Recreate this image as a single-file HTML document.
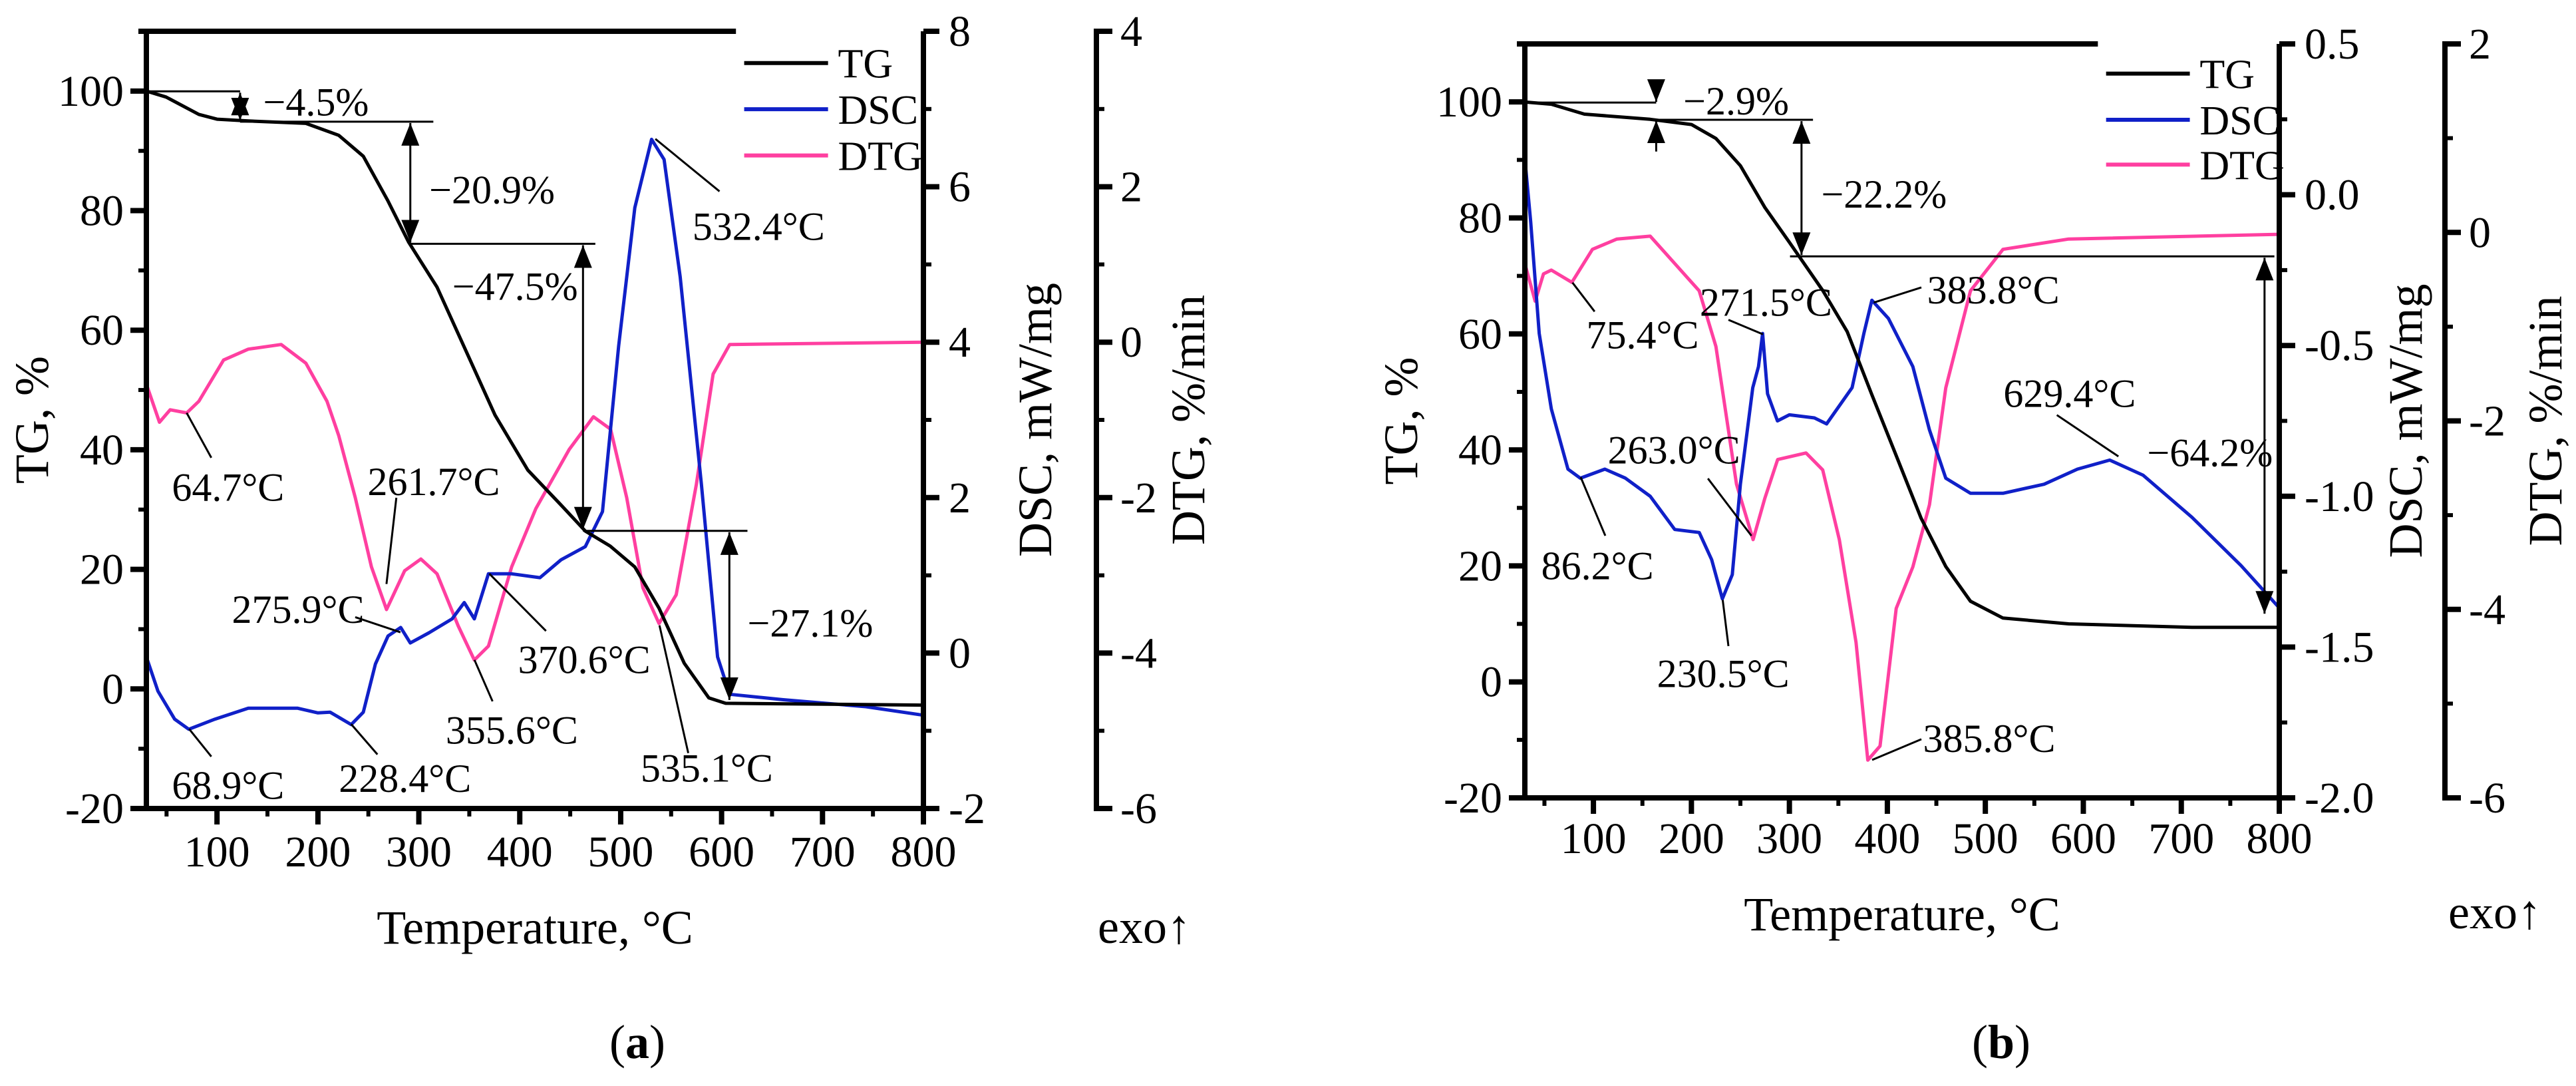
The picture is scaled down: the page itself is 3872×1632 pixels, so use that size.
<!DOCTYPE html>
<html><head><meta charset="utf-8"><style>
html,body{margin:0;padding:0;background:#fff;}
svg,svg text{font-family:"Liberation Serif","Times New Roman",serif;}
</style></head><body>
<svg id="fig" width="3872" height="1627" viewBox="0 0 3872 1627" xmlns="http://www.w3.org/2000/svg" font-family="Liberation Serif, serif">
<defs>
<marker id="ahb" viewBox="0 0 10 10" refX="10" refY="5" markerWidth="34" markerHeight="30" orient="auto-start-reverse" markerUnits="userSpaceOnUse" preserveAspectRatio="none"><path d="M0,0.5 L10,5 L0,9.5 z" fill="#000"/></marker>
</defs>
</svg>
<script>
// ---------- Panel (a) data ----------
const aTgT=[30,49.5,82,100,131,188,220.6,245,269.5,290,318,350.6,375.5,408,440.7,465,489.6,514,538,563,587.4,604,800];
const aTgV=[100,99,96.1,95.3,95,94.6,92.6,89.1,81.6,74.7,67.2,55.1,45.8,36.6,30.8,26.4,23.9,20.4,13.5,4.3,-1.5,-2.4,-2.7];
const aDscT=[30,41.5,58,72,98,131,180,200,212,233,245,257,269.5,282,291.5,310,333,345,355,369,392,420,441,465,482,498,514,530.6,543,559,580,596,608,661,743,800];
const aDscV=[-0.05,-0.49,-0.85,-0.98,-0.85,-0.71,-0.71,-0.77,-0.76,-0.92,-0.76,-0.14,0.22,0.33,0.13,0.26,0.44,0.65,0.44,1.02,1.02,0.97,1.2,1.37,1.82,3.95,5.73,6.61,6.35,4.84,2.17,-0.05,-0.53,-0.6,-0.69,-0.8];
const aDtgT=[30,43,53.6,70,82,106.5,131,163.6,188,209,220.6,237,253,268,286,302,318,339,355,369,392,416,449,473,490,506,522,538,555,575,591.6,608,800];
const aDtgV=[-0.54,-1.03,-0.87,-0.91,-0.76,-0.23,-0.09,-0.03,-0.27,-0.76,-1.2,-2.0,-2.89,-3.44,-2.94,-2.79,-2.98,-3.65,-4.09,-3.91,-2.89,-2.14,-1.38,-0.96,-1.12,-2.0,-3.16,-3.62,-3.25,-1.83,-0.41,-0.03,0];
// ---------- Panel (b) data ----------
const bTgT=[29.6,57,90.8,158,200,225,250,275,300,334,359,384,409.3,434.5,459.6,484.8,518,585,711,800];
const bTgV=[100,99.6,97.9,97,96.1,93.7,89,81.8,75.8,67.5,60.4,49.6,38.9,28.2,19.9,13.9,11,10,9.4,9.4];
const bDscT=[30,36,44.7,57,74,86.6,111.7,132.7,158,183,208,220.7,231.6,241.7,250,262.6,268.5,272.7,277.7,287.8,300,325.5,338,364,376,384.2,401,426,443,459.6,484.8,518,560,594,627,661,711,761,800];
const bDscV=[0.12,-0.09,-0.46,-0.71,-0.91,-0.94,-0.91,-0.94,-1.0,-1.11,-1.12,-1.21,-1.34,-1.26,-0.96,-0.64,-0.57,-0.46,-0.66,-0.75,-0.73,-0.74,-0.76,-0.64,-0.46,-0.35,-0.41,-0.57,-0.78,-0.94,-0.99,-0.99,-0.96,-0.91,-0.88,-0.93,-1.07,-1.23,-1.37];
const bDtgT=[30,40.5,49,57,78,99,124,158,183,208,225,246,263,275,288,317,334,351,368,380,392.5,409,426,443,459.6,484.8,518,585,800];
const bDtgV=[-0.33,-0.73,-0.44,-0.4,-0.53,-0.18,-0.07,-0.04,-0.33,-0.62,-1.21,-2.67,-3.26,-2.82,-2.41,-2.34,-2.52,-3.26,-4.35,-5.6,-5.45,-3.99,-3.55,-2.89,-1.65,-0.62,-0.18,-0.07,-0.02];
// ticks
const xTicks=[100,200,300,400,500,600,700,800];
const tgTicks=[-20,0,20,40,60,80,100];
const aDscTicks=[-2,0,2,4,6,8];
const aDtgTicks=[-6,-4,-2,0,2,4];
const bDscTicks=[-2.0,-1.5,-1.0,-0.5,0.0,0.5];
const bDtgTicks=[-6,-4,-2,0,2];

const NS='http://www.w3.org/2000/svg';
const svg=document.getElementById('fig');
const FF='"Liberation Serif", serif';
function mk(tag,attrs,parent,text){const e=document.createElementNS(NS,tag);for(const k in attrs)e.setAttribute(k,attrs[k]);if(tag==='text')e.setAttribute('font-family',FF);if(text!==undefined)e.textContent=text;(parent||svg).appendChild(e);return e;}

function panel(P){
  const g=mk('g',{});
  
  
  const X=t=>P.L+(t-30)*(P.R-P.L)/770;
  const Ytg=v=>P.B-(v+20)*(P.B-P.T)/130;
  const Ydsc=v=>P.B-(v-P.dscMin)*(P.B-P.T)/(P.dscMax-P.dscMin);
  const Ydtg=v=>P.B-(v-P.dtgMin)*(P.B-P.T)/(P.dtgMax-P.dtgMin);
  const zx=z=>P.L+(z-P.zL)*P.zsx, zy=z=>P.T+(z-P.zT)*P.zsy;
  function curve(T,V,Y,color,name){
    const d=T.map((t,i)=>(i?'L':'M')+X(t).toFixed(1)+','+Y(V[i]).toFixed(1)).join(' ');
    const p=mk('path',{d:d,fill:'none',stroke:color,'stroke-width':5,'stroke-linejoin':'round'},g);
    
    
  }
  curve(P.dtgT,P.dtgV,Ydtg,'#ff3fa0','dtg-curve');
  curve(P.dscT,P.dscV,Ydsc,'#1020c8','dsc-curve');
  curve(P.tgT,P.tgV,Ytg,'#000','tg-curve');
  const ax=mk('g',{stroke:'#000','stroke-width':8,fill:'none'},g);
  
  
  mk('line',{x1:P.L,y1:P.T,x2:P.L,y2:P.B+4},ax);
  mk('line',{x1:P.L-4,y1:P.B,x2:P.R+4,y2:P.B},ax);
  mk('line',{x1:P.R,y1:P.T,x2:P.R,y2:P.B},ax);
  mk('line',{x1:P.L-12,y1:P.T,x2:zx(P.legX0),y2:P.T},ax);
  mk('line',{x1:P.D,y1:P.T,x2:P.D,y2:P.B},ax);
  for(let t=50;t<=800;t+=50){const x=X(t);const maj=t%100===0;mk('line',{x1:x,y1:P.B,x2:x,y2:P.B+(maj?24:12),'stroke-width':maj?8:6},ax);}
  xTicks.forEach(t=>{const e=mk('text',{x:X(t),y:P.xLabY,'font-size':66,'text-anchor':'middle'},g,String(t));});
  for(let v=-20;v<=100;v+=10){const y=Ytg(v);const maj=v%20===0;mk('line',{x1:P.L-(maj?24:12),y1:y,x2:P.L,y2:y,'stroke-width':maj?8:6},ax);}
  tgTicks.forEach(v=>{const e=mk('text',{x:P.L-34,y:Ytg(v)+22,'font-size':66,'text-anchor':'end'},g,String(v));});
  const ds=(P.dscTicks[1]-P.dscTicks[0])/2;
  for(let v=P.dscMin;v<=P.dscMax+1e-9;v+=ds){const y=Ydsc(v);const maj=Math.abs(Math.round((v-P.dscMin)/ds))%2===0;mk('line',{x1:P.R,y1:y,x2:P.R+(maj?24:12),y2:y,'stroke-width':maj?8:6},ax);}
  P.dscTicks.forEach(v=>{const e=mk('text',{x:P.R+38,y:Ydsc(v)+22,'font-size':66},g,P.dscFmt(v));});
  for(let v=P.dtgMin;v<=P.dtgMax;v+=1){const y=Ydtg(v);const maj=(v-P.dtgMin)%2===0;mk('line',{x1:P.D-4,y1:y,x2:P.D+(maj?24:12),y2:y,'stroke-width':maj?8:6},ax);}
  P.dtgTicks.forEach(v=>{const e=mk('text',{x:P.D+36,y:Ydtg(v)+22,'font-size':66},g,String(v));});
  function title(txt,x,y,rot,name,anchor){const e=mk('text',{x:x,y:y,'font-size':72,'text-anchor':anchor||'middle',transform:rot?`rotate(-90 ${x} ${y})`:''},g,txt);return e;}
  title('TG, %',P.tgTitleX,(P.T+P.B)/2,true,'tg-axis-title');
  title('DSC, mW/mg',P.dscTitleX,(P.T+P.B)/2,true,'dsc-axis-title');
  title('DTG, %/min',P.dtgTitleX,(P.T+P.B)/2,true,'dtg-axis-title');
  title('Temperature, °C',(P.L+P.R)/2,P.xTitleY,false,'x-axis-title');
  title('exo↑',P.exoX,P.exoY,false,'exo-label','start');
  const lab=mk('text',{x:P.labX,y:1590,'font-size':72,'text-anchor':'middle'},g);
  
  mk('tspan',{},lab,'(');mk('tspan',{'font-weight':'bold'},lab,P.letter);mk('tspan',{},lab,')');
  const lg=mk('g',{},g);
  
  
  [['TG','#000'],['DSC','#1020c8'],['DTG','#ff3fa0']].forEach((s,i)=>{
    const y=zy(P.legY[i]);
    mk('line',{x1:zx(P.legX0+10),y1:y,x2:zx(P.legX0+112),y2:y,stroke:s[1],'stroke-width':6},lg);
    const t=mk('text',{x:zx(P.legX0+124),y:y+22,'font-size':62},lg,s[0]);
    
    
  });
  const an=mk('g',{stroke:'#000','stroke-width':3,fill:'none'},g);
  
  
  P.hl.forEach(h=>mk('line',{x1:zx(h[0]),y1:zy(h[1]),x2:zx(h[2]),y2:zy(h[1])},an));
  P.arr.forEach(a=>{const at={x1:zx(a[0]),y1:zy(a[1]),x2:zx(a[0]),y2:zy(a[2]),'marker-end':'url(#ahb)'};if(a[3])at['marker-start']='url(#ahb)';mk('line',at,an);});
  P.lead.forEach(l=>mk('line',{x1:zx(l[0]),y1:zy(l[1]),x2:zx(l[2]),y2:zy(l[3])},an));
  P.txt.forEach(t=>{const e=mk('text',{x:zx(t[1]),y:zy(t[2])+22,'font-size':60},g,t[0]);});
}

panel({name:'panel-a',letter:'a',L:220,R:1388,T:47,B:1215,D:1648,zL:176,zT:44,zsx:1.236,zsy:1.037,
  dscMin:-2,dscMax:8,dtgMin:-6,dtgMax:4,dscTicks:aDscTicks,dtgTicks:aDtgTicks,dscFmt:v=>String(v),
  tgT:aTgT,tgV:aTgV,dscT:aDscT,dscV:aDscV,dtgT:aDtgT,dtgV:aDtgV,
  xLabY:1302,tgTitleX:72,dscTitleX:1580,dtgTitleX:1810,xTitleY:1418,exoX:1650,exoY:1417,labX:958,
  legX0:893,legY:[90,157,224],
  hl:[[176,131,290],[290,175,525],[497,352,722],[707,768,907]],
  arr:[[290,133,173,1],[497,177,350,1],[707,354,766,1],[885,770,1013,1]],
  lead:[[795,200,873,276],[225,597,255,662],[468,845,480,720],[430,893,485,915],[593,830,662,913],[575,955,597,1015],[800,905,835,1090],[228,1055,255,1095],[425,1048,457,1092]],
  txt:[['−4.5%',318,145],['−20.9%',520,272],['−47.5%',548,412],['−27.1%',907,900],['532.4°C',840,325],['64.7°C',207,703],['261.7°C',445,695],['275.9°C',280,880],['370.6°C',628,953],['355.6°C',540,1055],['535.1°C',777,1110],['68.9°C',207,1135],['228.4°C',410,1125]]
});
panel({name:'panel-b',letter:'b',L:2292,R:3426,T:66,B:1199,D:3675,zL:287,zT:62,zsx:1.234,zsy:1.0366,
  dscMin:-2,dscMax:0.5,dtgMin:-6,dtgMax:2,dscTicks:bDscTicks,dtgTicks:bDtgTicks,dscFmt:v=>v.toFixed(1),
  tgT:bTgT,tgV:bTgV,dscT:bDscT,dscV:bDscV,dtgT:bDtgT,dtgV:bDtgV,
  xLabY:1282,tgTitleX:2130,dscTitleX:3640,dtgTitleX:3850,xTitleY:1398,exoX:3680,exoY:1395,labX:3008,
  legX0:985,legY:[105,172,237],
  hl:[[287,147,447],[447,172,638],[610,370,1200]],
  arr:[[1188,372,888,1],[624,174,368,1],[447,120,146,0],[447,218,173,0]],
  lead:[[535,462,577,483],[712,437,770,415],[510,692,563,775],[935,600,1010,660],[355,690,385,775],[528,868,535,935],[710,1100,770,1070],[345,408,372,450]],
  txt:[['−2.9%',480,143],['−22.2%',648,278],['−64.2%',1045,653],['75.4°C',362,482],['271.5°C',500,435],['383.8°C',777,417],['263.0°C',388,649],['629.4°C',870,567],['86.2°C',307,817],['230.5°C',448,973],['385.8°C',772,1067]]
});
</script>
</body></html>
